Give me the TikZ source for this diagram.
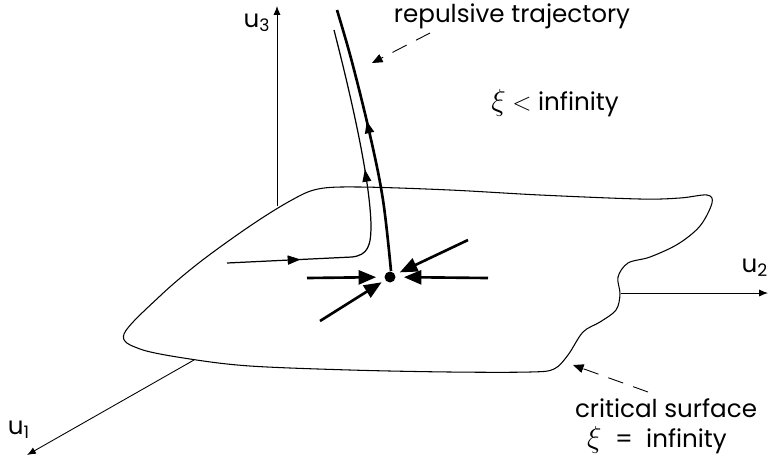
\documentclass[tikz,border=0pt]{standalone}
\usepackage{fontspec}
\setmainfont{Poppins}
\usetikzlibrary{arrows.meta,decorations.markings}

\begin{document}
\begin{tikzpicture}[x=0.02cm, y=-0.02cm,
    axis/.style={-{Latex[length=5pt,width=4pt]}, line width=0.5pt},
    inflow/.style={-{Triangle[length=10pt,width=8pt]}, line width=1.5pt, shorten >=1.6mm},
    pointer/.style={dash pattern=on 9pt off 6pt, -{Triangle[length=6pt,width=5pt]}, line width=0.5pt},
    midarrow/.style={postaction={decorate}, decoration={markings,
        mark=at position #1 with {\arrow{Triangle[length=7pt,width=5pt]}}}},
    lbl/.style={font=\fontsize{14}{16}\selectfont, inner sep=0pt}
]
    \useasboundingbox (0,0) rectangle (768,458);

    % critical surface
    \draw[line width=0.6pt] plot[smooth cycle, tension=0.55] coordinates {
        (124,334) (160,296) (200,262) (250,226) (290,201) (318,189) (360,187)
        (450,190) (540,195) (640,199) (680,198) (707,195) (712,203) (700,226)
        (678,244) (650,257) (628,263) (618,277) (620,294) (616,310) (600,322)
        (583,332) (568,355) (554,369) (530,372) (450,372) (350,370) (250,366)
        (190,359) (140,349)};

    % axes
    \coordinate (o3) at (277,206);
    \coordinate (o2) at (621,293);
    \coordinate (o1) at (194,360);
    \coordinate (e3) at (277,6);
    \coordinate (e2) at (768,293);
    \coordinate (e1) at (27,455);
    \draw[axis] (o3) -- (e3);
    \draw[axis] (o2) -- (e2);
    \draw[axis] (o1) -- (e1);
    \node[lbl] (u3lbl) at (257,23) {u\textsubscript{3}};
    \node[lbl] (u2lbl) at (755,268) {u\textsubscript{2}};
    \node[lbl] (u1lbl) at (19,430) {u\textsubscript{1}};

    % fixed point and flows
    \node[circle, fill, inner sep=0pt, minimum size=0.22cm] (fp) at (390,277) {};
    \coordinate (inL) at (307,278);
    \coordinate (inR) at (488,278);
    \coordinate (inUR) at (468,240);
    \coordinate (inLL) at (320,321);
    \draw[inflow] (inL) -- (fp);
    \draw[inflow] (inR) -- (fp);
    \draw[inflow, shorten >=1mm] (inUR) -- (fp);
    \draw[inflow, shorten >=0.8mm] (inLL) -- (fp);

    \draw[line width=1.5pt, midarrow=0.57] plot[smooth, tension=0.6] coordinates {
        (391,271) (383,200) (370,135) (352,62) (337,10)};

    \coordinate (thinA) at (227,263);
    \coordinate (thinB) at (334,30);
    \draw[line width=0.7pt, midarrow=0.2, postaction={decorate, decoration={markings,
        mark=at position 0.61 with {\arrow{Triangle[length=7pt,width=5pt]}}}}]
        (thinA) -- (352,257) .. controls (368,255) and (371,246) .. (371,225)
        .. controls (370,180) and (352,100) .. (thinB);

    % labels
    \node[lbl] (reptxt) at (512,16) {repulsive trajectory};
    \node[lbl] (xiless) at (555,103) {{\fontsize{16}{16}\selectfont$\xi$} $<$ infinity};
    \node[lbl] (crittxt) at (666,408) {critical surface};
    \node[lbl] (xieq) at (657,440) {{\fontsize{16}{16}\selectfont$\xi$} \;=\; infinity};

    \coordinate (repA) at (430,33);
    \coordinate (repB) at (372,63);
    \draw[pointer] (repA) -- (repB);
    \coordinate (critA) at (648,392);
    \coordinate (critB) at (573,365);
    \draw[pointer] (critA) -- (critB);
\end{tikzpicture}
\end{document}
